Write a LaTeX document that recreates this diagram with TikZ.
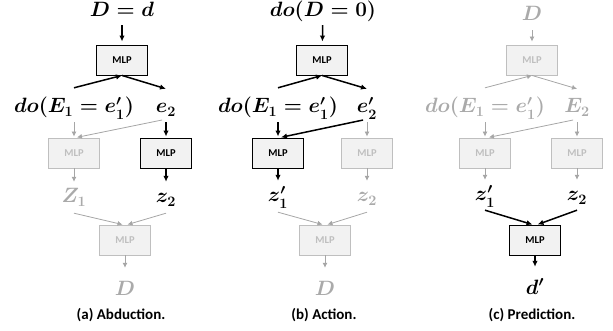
\documentclass[tikz,border=0pt]{standalone}
\usepackage{fontspec}
\usepackage{amsmath}
\newfontfamily\carlito{Carlito}
\usetikzlibrary{arrows.meta}

\definecolor{boxfill}{RGB}{242,242,242}
\definecolor{faded}{RGB}{170,170,170}
\definecolor{fadedline}{RGB}{166,166,166}
\definecolor{fadedbox}{RGB}{191,191,191}

\tikzset{
  mlp/.style={draw, fill=boxfill, line width=0.9pt, minimum width=51pt, minimum height=30pt,
    inner sep=0pt, font=\fontsize{10.5}{12}\selectfont\carlito\bfseries},
  mlpoff/.style={mlp, draw=fadedbox, text=fadedbox},
  var/.style={anchor=base, inner sep=1pt, text height=14pt, text depth=5pt,
    font=\fontsize{20}{23}\selectfont\boldmath},
  varoff/.style={var, text=faded},
  caption/.style={font=\fontsize{15}{18}\selectfont\carlito\bfseries},
  live/.style={line width=1.5pt, -{Latex[length=6pt,width=5.5pt]}},
  dead/.style={line width=0.8pt, draw=fadedline, -{Latex[length=5pt,width=5pt]}},
}

\begin{document}
\begin{tikzpicture}[x=1pt, y=-1pt]
  \useasboundingbox (0,0) rectangle (613,331);

  % (a) Abduction
  \node[var] (a-in) at (122,17) {$D = d$};
  \node[mlp] (a-enc) at (122,60) {MLP};
  \node[var] (a-do) at (74,113) {$do(E_1 = e_1')$};
  \node[var] (a-e) at (166,113) {$e_2$};
  \node[mlpoff] (a-f1) at (74,153) {MLP};
  \node[mlp] (a-f2) at (166,153) {MLP};
  \node[varoff] (a-z1) at (74,203) {$Z_1$};
  \node[var] (a-z2) at (166,203) {$z_2$};
  \node[mlpoff] (a-dec) at (125,240) {MLP};
  \node[varoff] (a-out) at (125,295) {$D$};
  \node[caption] (a-cap) at (121,315) {(a) Abduction.};

  \draw[live, shorten <=2pt, shorten >=3pt] (a-in) -- (a-enc);
  \draw[live] ([yshift=10pt]a-do.north) -- (a-enc.south);
  \draw[live] (a-enc.south) -- ([yshift=9pt]a-e.north);
  \draw[dead, shorten <=3pt, shorten >=1pt] (a-do.south) -- (a-f1.north);
  \draw[dead, shorten <=4pt, shorten >=1pt] (a-e.south) -- ([xshift=2pt]a-f1.north);
  \draw[live, shorten <=3pt, shorten >=1pt] (a-e.south) -- (a-f2.north);
  \draw[dead, shorten >=6pt] (a-f1.south) -- (a-z1.north);
  \draw[live, shorten >=6pt] (a-f2.south) -- (a-z2.north);
  \draw[dead] ([yshift=-4pt]a-z1.south) -- ([xshift=-2.5pt]a-dec.north);
  \draw[dead] ([yshift=-4pt]a-z2.south) -- ([xshift=2.5pt]a-dec.north);
  \draw[dead, shorten >=12pt] (a-dec.south) -- (a-out.north);

  % (b) Action
  \node[var] (b-in) at (323,17) {$do(D = 0)$};
  \node[mlp] (b-enc) at (322,60) {MLP};
  \node[var] (b-do) at (278,113) {$do(E_1 = e_1')$};
  \node[var] (b-e) at (367,113) {$e_2'$};
  \node[mlp] (b-f1) at (278,153) {MLP};
  \node[mlpoff] (b-f2) at (367,153) {MLP};
  \node[var] (b-z1) at (278,202) {$z_1'$};
  \node[varoff] (b-z2) at (367,202) {$z_2$};
  \node[mlpoff] (b-dec) at (325,240) {MLP};
  \node[varoff] (b-out) at (325,295) {$D$};
  \node[caption] (b-cap) at (324,315) {(b) Action.};

  \draw[live, shorten <=2pt, shorten >=3pt] (b-in) -- (b-enc);
  \draw[live] ([yshift=10pt]b-do.north) -- (b-enc.south);
  \draw[live] (b-enc.south) -- ([yshift=9pt]b-e.north);
  \draw[live, shorten <=3pt, shorten >=1pt] (b-do.south) -- (b-f1.north);
  \draw[live, shorten <=4pt, shorten >=1pt] (b-e.south) -- ([xshift=2pt]b-f1.north);
  \draw[dead, shorten <=3pt, shorten >=1pt] (b-e.south) -- (b-f2.north);
  \draw[live, shorten >=6pt] (b-f1.south) -- (b-z1.north);
  \draw[dead, shorten >=6pt] (b-f2.south) -- (b-z2.north);
  \draw[dead] ([yshift=-4pt]b-z1.south) -- ([xshift=-2.5pt]b-dec.north);
  \draw[dead] ([yshift=-4pt]b-z2.south) -- ([xshift=2.5pt]b-dec.north);
  \draw[dead, shorten >=12pt] (b-dec.south) -- (b-out.north);

  % (c) Prediction
  \node[varoff] (c-in) at (532,21) {$D$};
  \node[mlpoff] (c-enc) at (532,60) {MLP};
  \node[varoff] (c-do) at (485,113) {$do(E_1 = e_1')$};
  \node[varoff] (c-e) at (577,113) {$E_2$};
  \node[mlpoff] (c-f1) at (485,153) {MLP};
  \node[mlpoff] (c-f2) at (577,153) {MLP};
  \node[var] (c-z1) at (485,201) {$z_1'$};
  \node[var] (c-z2) at (577,201) {$z_2$};
  \node[mlp] (c-dec) at (535,240) {MLP};
  \node[var] (c-out) at (535,294) {$d'$};
  \node[caption] (c-cap) at (532,315) {(c) Prediction.};

  \draw[dead, shorten <=3pt, shorten >=3pt] (c-in) -- (c-enc);
  \draw[dead] ([yshift=10pt]c-do.north) -- (c-enc.south);
  \draw[dead] (c-enc.south) -- ([yshift=9pt]c-e.north);
  \draw[dead, shorten <=3pt, shorten >=1pt] (c-do.south) -- (c-f1.north);
  \draw[dead, shorten <=4pt, shorten >=1pt] (c-e.south) -- ([xshift=3pt]c-f1.north);
  \draw[dead, shorten <=3pt, shorten >=1pt] (c-e.south) -- (c-f2.north);
  \draw[dead, shorten >=6pt] (c-f1.south) -- (c-z1.north);
  \draw[dead, shorten >=6pt] (c-f2.south) -- (c-z2.north);
  \draw[live] ([yshift=-3pt]c-z1.south) -- ([xshift=-2.5pt]c-dec.north);
  \draw[live] ([yshift=-3pt]c-z2.south) -- ([xshift=2.5pt]c-dec.north);
  \draw[live, shorten >=12pt] (c-dec.south) -- (c-out.north);
\end{tikzpicture}
\end{document}
